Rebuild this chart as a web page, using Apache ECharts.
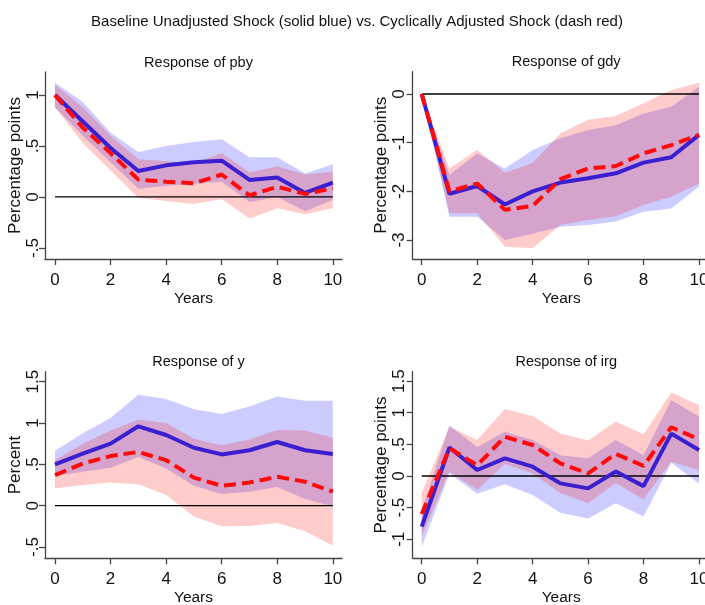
<!DOCTYPE html>
<html>
<head>
<meta charset="utf-8">
<script src="https://cdn.jsdelivr.net/npm/echarts@6/dist/echarts.min.js"></script>
<style>html,body{margin:0;padding:0;background:#fff}#c{width:705px;height:605px}</style>
</head>
<body>
<div id="c"></div>
<script>
const years = [0,1,2,3,4,5,6,7,8,9,10];
const xTicks = [0,2,4,6,8,10];

const pbyBlue   = [1.0,0.74,0.48,0.255,0.31,0.34,0.356,0.167,0.19,0.04,0.14];
const pbyRed    = [1.0,0.68,0.43,0.17,0.15,0.135,0.22,0.016,0.10,0.03,0.085];
const pbyBlueLo = [0.88,0.60,0.34,0.08,0.11,0.13,0.15,-0.05,0.0,-0.14,-0.03];
const pbyBlueHi = [1.12,0.93,0.63,0.44,0.50,0.54,0.565,0.39,0.39,0.23,0.32];
const pbyRedLo  = [0.88,0.53,0.26,-0.01,-0.04,-0.07,-0.02,-0.21,-0.11,-0.17,-0.11];
const pbyRedHi  = [1.10,0.88,0.60,0.37,0.35,0.33,0.43,0.24,0.30,0.22,0.25];
const pbyTicks  = [-0.5,0,0.5,1];
const pbyTickLabels = ['-.5','0','.5','1'];

const gdyBlue   = [0,-2.05,-1.89,-2.27,-2.0,-1.82,-1.73,-1.63,-1.41,-1.30,-0.84];
const gdyRed    = [0,-2.0,-1.84,-2.38,-2.30,-1.75,-1.53,-1.48,-1.22,-1.05,-0.84];
const gdyBlueLo = [0,-2.52,-2.52,-3.0,-2.87,-2.73,-2.69,-2.62,-2.42,-2.35,-1.90];
const gdyBlueHi = [0,-1.66,-1.22,-1.53,-1.15,-0.91,-0.74,-0.64,-0.40,-0.26,0.15];
const gdyRedLo  = [0,-2.45,-2.45,-3.14,-3.17,-2.69,-2.59,-2.51,-2.28,-2.11,-1.84];
const gdyRedHi  = [0,-1.53,-1.15,-1.62,-1.42,-0.81,-0.53,-0.45,-0.19,0.08,0.23];
const gdyTicks  = [-3,-2,-1,0];
const gdyTickLabels = ['-3','-2','-1','0'];

const yBlue   = [0.50,0.63,0.75,0.96,0.855,0.70,0.62,0.67,0.77,0.67,0.625];
const yRed    = [0.37,0.51,0.60,0.65,0.55,0.34,0.24,0.28,0.35,0.29,0.17];
const yBlueLo = [0.36,0.41,0.46,0.59,0.45,0.24,0.14,0.17,0.225,0.08,-0.01];
const yBlueHi = [0.665,0.875,1.06,1.34,1.29,1.165,1.11,1.20,1.32,1.27,1.27];
const yRedLo  = [0.21,0.25,0.28,0.26,0.13,-0.13,-0.25,-0.245,-0.21,-0.31,-0.48];
const yRedHi  = [0.55,0.75,0.91,1.04,1.0,0.81,0.73,0.80,0.915,0.91,0.82];
const yTicks  = [-0.5,0,0.5,1,1.5];
const yTickLabels = ['-.5','0','.5','1','1.5'];

const irgBlue   = [-0.80,0.45,0.095,0.28,0.147,-0.116,-0.195,0.07,-0.16,0.67,0.41];
const irgRed    = [-0.60,0.44,0.17,0.62,0.49,0.20,0.04,0.35,0.16,0.77,0.58];
const irgBlueLo = [-1.12,0.04,-0.28,-0.13,-0.30,-0.58,-0.67,-0.43,-0.64,0.21,-0.12];
const irgBlueHi = [-0.55,0.80,0.46,0.70,0.57,0.33,0.28,0.57,0.33,1.20,0.94];
const irgRedLo  = [-0.95,0.07,-0.22,0.19,0.04,-0.27,-0.43,-0.11,-0.37,0.23,0.09];
const irgRedHi  = [-0.27,0.78,0.57,1.06,0.95,0.67,0.56,0.86,0.66,1.32,1.12];
const irgTicks  = [-1,-0.5,0,0.5,1,1.5];
const irgTickLabels = ['-1','-.5','0','.5','1','1.5'];

const mainTitle = 'Baseline Unadjusted Shock (solid blue) vs. Cyclically Adjusted Shock (dash red)';

const FONT = "'Liberation Sans', Arial, sans-serif";
const BLUE = '#3a1fd0';
const RED = '#ff0a0a';

const panels = [
  {title:'Response of pby', yname:'Percentage points', blue:pbyBlue, red:pbyRed, bLo:pbyBlueLo, bHi:pbyBlueHi, rLo:pbyRedLo, rHi:pbyRedHi, ticks:pbyTicks, labels:pbyTickLabels,
   grid:{left:45, top:72, width:297, height:187}, xmin:-0.36, xmax:10.33, ymin:-0.608, ymax:1.225, nameGap:12, labelMargin:3},
  {title:'Response of gdy', yname:'Percentage points', blue:gdyBlue, red:gdyRed, bLo:gdyBlueLo, bHi:gdyBlueHi, rLo:gdyRedLo, rHi:gdyRedHi, ticks:gdyTicks, labels:gdyTickLabels,
   grid:{left:412.7, top:71.7, width:297, height:187.3}, xmin:-0.325, xmax:10.386, ymin:-3.39, ymax:0.458, nameGap:19, labelMargin:5},
  {title:'Response of y', yname:'Percent', blue:yBlue, red:yRed, bLo:yBlueLo, bHi:yBlueHi, rLo:yRedLo, rHi:yRedHi, ticks:yTicks, labels:yTickLabels,
   grid:{left:45, top:371.7, width:297, height:186.6}, xmin:-0.36, xmax:10.33, ymin:-0.636, ymax:1.62, nameGap:16, labelMargin:3},
  {title:'Response of irg', yname:'Percentage points', blue:irgBlue, red:irgRed, bLo:irgBlueLo, bHi:irgBlueHi, rLo:irgRedLo, rHi:irgRedHi, ticks:irgTicks, labels:irgTickLabels,
   grid:{left:412.7, top:371.7, width:297, height:186.6}, xmin:-0.325, xmax:10.386, ymin:-1.30, ymax:1.648, nameGap:19, labelMargin:5}
];

const grids = [], xAxes = [], yAxes = [], series = [], titles = [];
titles.push({text: mainTitle, left: 352, top: 9, textAlign: 'center',
  textStyle:{fontFamily:FONT, fontSize:15, fontWeight:'normal', color:'#111'}});

const pair = (arr) => years.map((x,i) => [x, arr[i]]);

function bandSeries(k, lo, hi, color) {
  const data = years.map((x,i) => [x, lo[i], hi[i]]);
  return {
    type:'custom', xAxisIndex:k, yAxisIndex:k, silent:true, animation:false,
    data: data, encode:{x:0, y:[1,2]},
    renderItem: function(params, api) {
      if (params.dataIndex !== 0) return null;
      const pts = [];
      for (let i = 0; i < data.length; i++) pts.push(api.coord([data[i][0], data[i][2]]));
      for (let i = data.length - 1; i >= 0; i--) pts.push(api.coord([data[i][0], data[i][1]]));
      return {type:'polygon', shape:{points:pts}, style:{fill:color, stroke:null}};
    }
  };
}

panels.forEach((p, k) => {
  grids.push(Object.assign({containLabel:false, outerBoundsMode:'none'}, p.grid));
  titles.push({text:p.title, left:p.grid.left + p.grid.width/2, top:p.grid.top - 22, textAlign:'center',
    textStyle:{fontFamily:FONT, fontSize:14.5, fontWeight:'normal', color:'#111'}});
  const labelMap = {};
  p.ticks.forEach((t,i)=>{ labelMap[String(t)] = p.labels[i]; });
  xAxes.push({type:'value', gridIndex:k, min:p.xmin, max:p.xmax, name:'Years', nameLocation:'middle', nameGap:31.5,
    nameTextStyle:{fontFamily:FONT, fontSize:15.5, color:'#111'},
    axisLine:{show:true, onZero:false, lineStyle:{color:'#444', width:1.3}},
    axisTick:{show:true, length:6, customValues:xTicks, lineStyle:{color:'#444', width:1.3}},
    axisLabel:{customValues:xTicks, margin:13, fontFamily:FONT, fontSize:17, color:'#111'},
    splitLine:{show:false}});
  yAxes.push({type:'value', gridIndex:k, min:p.ymin, max:p.ymax, name:p.yname, nameLocation:'middle', nameGap:p.nameGap,
    nameTextStyle:{fontFamily:FONT, fontSize:17, color:'#111'},
    axisLine:{show:true, onZero:false, lineStyle:{color:'#444', width:1.3}},
    axisTick:{show:true, length:6, customValues:p.ticks, lineStyle:{color:'#444', width:1.3}},
    axisLabel:{customValues:p.ticks, rotate:90, margin:p.labelMargin, fontFamily:FONT, fontSize:17, color:'#111',
      formatter:(v)=> labelMap[String(v)] !== undefined ? labelMap[String(v)] : String(v)},
    splitLine:{show:false}});
  const base = {xAxisIndex:k, yAxisIndex:k, type:'line', symbol:'none', silent:true, animation:false};
  series.push(bandSeries(k, p.bLo, p.bHi, 'rgba(0,0,255,0.2)'));
  series.push(bandSeries(k, p.rLo, p.rHi, 'rgba(255,0,0,0.2)'));
  series.push(Object.assign({}, base, {data:[[years[0],0],[years[years.length-1],0]], lineStyle:{color:'#000', width:1.3}}));
  series.push(Object.assign({}, base, {data:pair(p.blue), lineStyle:{color:BLUE, width:4}}));
  series.push(Object.assign({}, base, {data:pair(p.red), lineStyle:{color:RED, width:4, type:[12,6]}}));
});

const chart = echarts.init(document.getElementById('c'), null, {renderer:'canvas'});
chart.setOption({backgroundColor:'#fff', animation:false, title:titles, grid:grids, xAxis:xAxes, yAxis:yAxes, series:series});
</script>
</body>
</html>
